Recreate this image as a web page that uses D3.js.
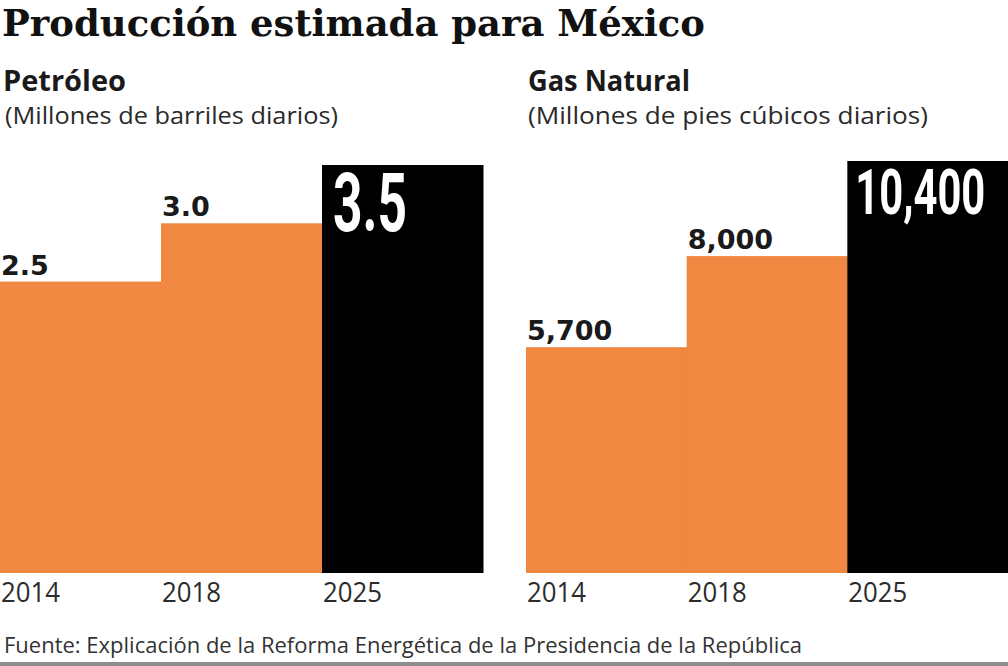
<!DOCTYPE html>
<html>
<head>
<meta charset="utf-8">
<script src="https://cdn.jsdelivr.net/npm/d3@7/dist/d3.min.js"></script>
<style>
  html, body { margin: 0; padding: 0; background: #fff; }
  svg { display: block; }
</style>
</head>
<body>
<svg id="chart" width="1008" height="666"></svg>
<script>
// ---- data ----
const years = ["2014", "2018", "2025"];
const petroleo = [2.5, 3.0, 3.5];
const gas = [5700, 8000, 10400];
const title = "Producción estimada para México";
const panelTitles = ["Petróleo", "Gas Natural"];
const panelUnits = ["(Millones de barriles diarios)", "(Millones de pies cúbicos diarios)"];
const source = "Fuente: Explicación de la Reforma Energética de la Presidencia de la República";

const W = 1008, H = 666;
const svg = d3.select("#chart");
const ORANGE = "#F08841";
const BASE = 573;

svg.append("text")
  .attr("x", 2).attr("y", 36)
  .attr("font-family", "DejaVu Serif")
  .attr("font-weight", "bold")
  .attr("font-size", 37)
  .attr("fill", "#111")
  .attr("textLength", 703)
  .attr("lengthAdjust", "spacingAndGlyphs")
  .text(title);

const panels = [
  { values: petroleo, fmt: d3.format(".1f"), xr: [0, 483], top: 165,
    big: { size: 82, dx: 11, dy: 66, len: 74 }, tx: 3, ux: 5, tlen: 123, ulen: 333 },
  { values: gas, fmt: d3.format(","), xr: [526, 1008], top: 161,
    big: { size: 63, dx: 8, dy: 53, len: 130 }, tx: 528, ux: 528, tlen: 162, ulen: 400 }
];

panels.forEach((p, pi) => {
  const x = d3.scaleBand().domain(years).range(p.xr).padding(0);
  const maxV = d3.max(p.values);
  const y = d3.scaleLinear().domain([0, maxV]).range([BASE, p.top]);
  const last = years.length - 1;
  const g = svg.append("g");

  // panel heading + units
  g.append("text")
    .attr("x", p.tx).attr("y", 91)
    .attr("font-family", "Open Sans").attr("font-weight", "bold")
    .attr("font-size", 28).attr("fill", "#1a1a1a")
    .attr("textLength", p.tlen).attr("lengthAdjust", "spacingAndGlyphs")
    .text(panelTitles[pi]);
  g.append("text")
    .attr("x", p.ux).attr("y", 124)
    .attr("font-family", "Open Sans")
    .attr("font-size", 24).attr("fill", "#2a2a2a")
    .attr("textLength", p.ulen).attr("lengthAdjust", "spacingAndGlyphs")
    .text(panelUnits[pi]);

  // bars
  g.selectAll("rect.bar")
    .data(p.values)
    .join("rect")
    .attr("class", "bar")
    .attr("x", (d, i) => x(years[i]))
    .attr("width", x.bandwidth() + 0.5)
    .attr("y", d => y(d))
    .attr("height", d => BASE - y(d))
    .attr("fill", (d, i) => i === last ? "#000" : ORANGE);

  // value labels above orange bars
  g.selectAll("text.val")
    .data(p.values.slice(0, last))
    .join("text")
    .attr("class", "val")
    .attr("x", (d, i) => x(years[i]) + 1)
    .attr("y", d => y(d) - 7)
    .attr("font-family", "DejaVu Sans").attr("font-weight", "bold")
    .attr("font-size", 27).attr("fill", "#1a1a1a")
    .text(d => p.fmt(d));

  // big white label inside highlighted bar (condensed by horizontal scale)
  const lv = p.values[last];
  const big = g.append("text")
    .attr("font-family", "Roboto").attr("font-weight", "bold")
    .attr("font-size", p.big.size).attr("fill", "#fff")
    .text(p.fmt(lv));
  const natural = big.node().getComputedTextLength();
  const sx = p.big.len / natural;
  big.attr("transform",
    `translate(${x(years[last]) + p.big.dx},${y(lv) + p.big.dy}) scale(${sx},1)`);

  // x axis (year labels, left aligned under each bar)
  const axis = g.append("g")
    .attr("transform", `translate(0,${BASE})`)
    .call(d3.axisBottom(x).tickSize(0).tickPadding(0));
  axis.select(".domain").remove();
  axis.selectAll("text")
    .attr("text-anchor", "start")
    .attr("x", -x.bandwidth() / 2 + 1)
    .attr("y", 29)
    .attr("dy", 0)
    .attr("font-family", "Open Sans")
    .attr("font-size", 27)
    .attr("fill", "#2b2b2b")
    .attr("textLength", 59)
    .attr("lengthAdjust", "spacingAndGlyphs");
});

// source
svg.append("text")
  .attr("x", 4).attr("y", 653)
  .attr("font-family", "Open Sans")
  .attr("font-size", 21)
  .attr("fill", "#333")
  .attr("textLength", 798)
  .attr("lengthAdjust", "spacingAndGlyphs")
  .text(source);

// bottom rule
svg.append("rect")
  .attr("x", 0).attr("y", 662).attr("width", W).attr("height", 4)
  .attr("fill", "#8e8e8e");
</script>
</body>
</html>
